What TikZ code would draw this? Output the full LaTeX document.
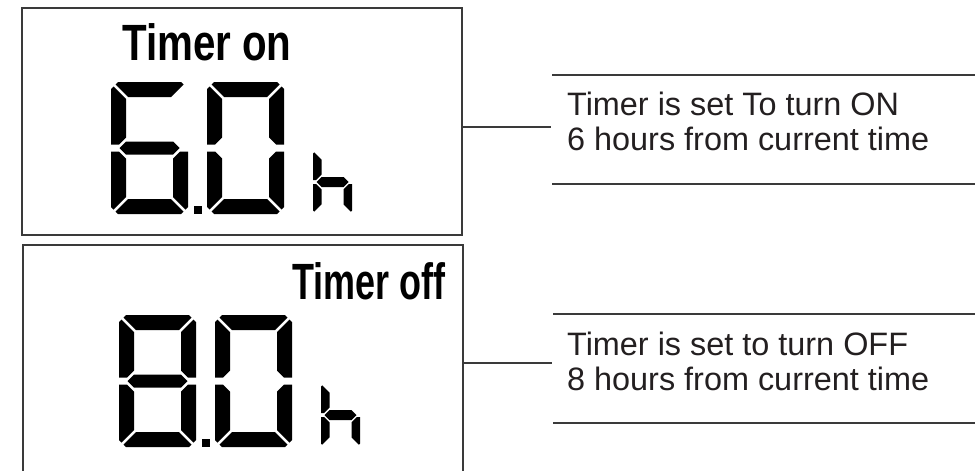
\documentclass[tikz,border=0pt]{standalone}
\usepackage{fontspec}
\setmainfont{Liberation Sans}
\definecolor{linegray}{HTML}{3A3A3A}
\definecolor{inkblack}{HTML}{231F20}
% seven-segment parameters: W H t m d c e
\newcommand\setdigit[7]{%
 \pgfmathsetmacro\dgW{#1}\pgfmathsetmacro\dgH{#2}\pgfmathsetmacro\dgt{#3}%
 \pgfmathsetmacro\dgm{#4}\pgfmathsetmacro\dgd{#5}\pgfmathsetmacro\dgc{#6}%
 \pgfmathsetmacro\dge{#7}\pgfmathsetmacro\dgM{\dgH/2}\pgfmathsetmacro\dgp{\dgt-\dgm}}
\newcommand\segA{\fill[segfill] (\dgc,0) -- ({\dgW-\dgc},0) -- ({\dgW-(\dgc+\dgd)/2},{(\dgc-\dgd)/2}) -- ({\dgW-\dgt-\dgd},\dgt) -- ({\dgt+\dgd},\dgt) -- ({(\dgc+\dgd)/2},{(\dgc-\dgd)/2}) -- cycle;}
\newcommand\segF{\fill[segfill] (0,\dgc) -- ({(\dgc-\dgd)/2},{(\dgc+\dgd)/2}) -- (\dgt,{\dgt+\dgd}) -- (\dgt,{\dgM-\dgm-2*\dgd}) -- ({\dgp-2*\dgd+\dge},{\dgM-\dge}) -- (0,{\dgM-\dge}) -- cycle;}
\newcommand\segG{\fill[segfill] (\dgp,\dgM) -- (\dgt,{\dgM-\dgm}) -- ({\dgW-\dgt},{\dgM-\dgm}) -- ({\dgW-\dgp},\dgM) -- ({\dgW-\dgt},{\dgM+\dgm}) -- (\dgt,{\dgM+\dgm}) -- cycle;}
\newcommand\dsega{\segA}
\newcommand\dsegd{\begin{scope}[shift={(0,\dgH)},yscale=-1]\segA\end{scope}}
\newcommand\dsegf{\segF}
\newcommand\dsegb{\begin{scope}[shift={(\dgW,0)},xscale=-1]\segF\end{scope}}
\newcommand\dsege{\begin{scope}[shift={(0,\dgH)},yscale=-1]\segF\end{scope}}
\newcommand\dsegc{\begin{scope}[shift={(\dgW,\dgH)},xscale=-1,yscale=-1]\segF\end{scope}}
\newcommand\dsegg{\segG}
\newcommand\drawdigit[3]{%
 \begin{scope}[shift={(#1,#2)}]
 \foreach \sgname in {#3}{\csname dseg\sgname\endcsname}
 \end{scope}}
% display: left x, top y, first digit segments, second digit segments
\newcommand\lcdreading[4]{%
 \setdigit{77}{132}{15}{6.5}{2}{7}{3.5}%
 \drawdigit{#1}{#2}{#3}%
 \drawdigit{#1+96}{#2}{#4}%
 \fill[segfill] ({#1+83},{#2+124}) rectangle ({#1+91},{#2+132});
 \setdigit{39}{64}{8.5}{5}{1.2}{3.5}{2}%
 \drawdigit{#1+202}{#2+68}{f,e,g,c}}
\begin{document}
\begin{tikzpicture}[x=1pt,y=-1pt,
  segfill/.style={fill=black},
  panel/.style={draw=linegray, line width=1.5pt, rectangle, inner sep=0pt, outer sep=0pt, minimum width=440pt},
  rule/.style={draw=linegray, line width=1.4pt},
  desc/.style={anchor=base west, inner sep=0pt, text=inkblack, font=\fontsize{32.4}{35}\selectfont},
  title/.style={anchor=base west, inner sep=0pt, text=black, font=\fontsize{51}{51}\selectfont\bfseries}]
\clip (0,0) rectangle (975,471);
\fill[white] (0,0) rectangle (975,471);
% panels
\node[panel, minimum height=227pt] (screen1) at (242,121.5) {};
\node[panel, minimum height=235pt] (screen2) at (243,362.5) {};
% titles
\node[title] (title1) at (122,60) {\scalebox{0.79}[1]{Timer on}};
\node[title] (title2) at (292,299) {\scalebox{0.705}[1]{Timer off}};
% digits
\lcdreading{111}{82}{a,f,g,e,d,c}{a,b,c,d,e,f}
\lcdreading{119}{315}{a,b,c,d,e,f,g}{a,b,c,d,e,f}
% descriptions
\node[desc] (desc1a) at (567,115) {Timer is set To turn ON};
\node[desc] (desc1b) at (567,150) {6 hours from current time};
\node[desc] (desc2a) at (567,355) {Timer is set to turn OFF};
\node[desc] (desc2b) at (567,390) {8 hours from current time};
% rules and connectors
\coordinate (lead1) at (551,127);
\coordinate (lead2) at (552,363);
\coordinate (r1s) at (552,75);  \coordinate (r1e) at (975,75);
\coordinate (r2s) at (552,184); \coordinate (r2e) at (975,184);
\coordinate (r3s) at (553,314); \coordinate (r3e) at (975,314);
\coordinate (r4s) at (553,423); \coordinate (r4e) at (975,423);
\draw[rule] (lead1 -| screen1.east) -- (lead1);
\draw[rule] (lead2 -| screen2.east) -- (lead2);
\draw[rule] (r1s) -- (r1e);
\draw[rule] (r2s) -- (r2e);
\draw[rule] (r3s) -- (r3e);
\draw[rule] (r4s) -- (r4e);
\end{tikzpicture}
\end{document}
